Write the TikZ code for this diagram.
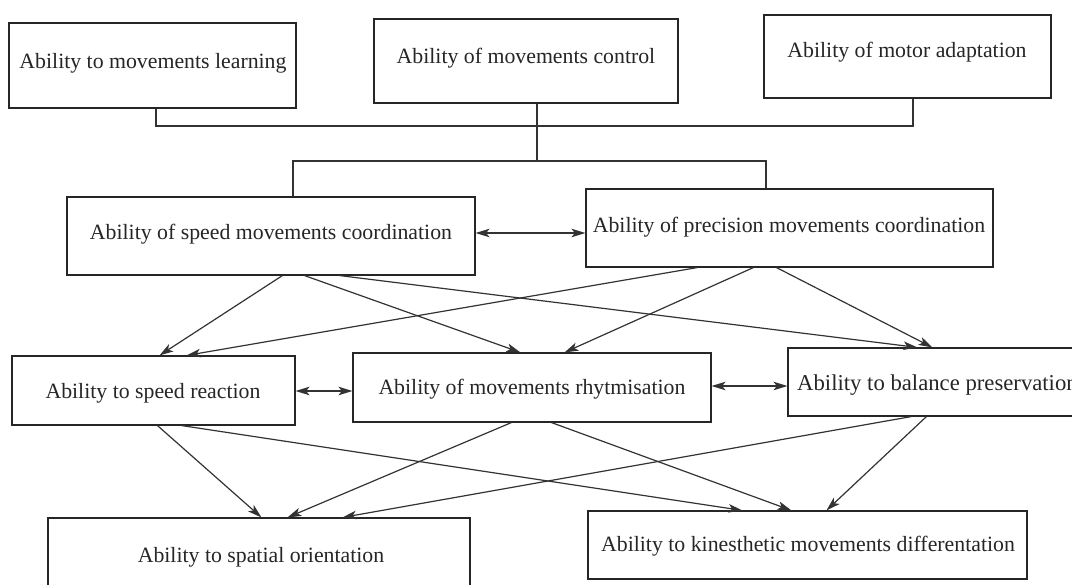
\documentclass[tikz,border=0pt]{standalone}
\usepackage{fontspec}
\setmainfont{Liberation Serif}
\usetikzlibrary{arrows.meta}
\begin{document}
\begin{tikzpicture}[x=1pt,y=-1pt,
  box/.style={draw=black!85,line width=1.1pt,rectangle,inner sep=0pt},
  lbl/.style={inner sep=0pt,text=black!85,font=\fontsize{21.8}{26}\selectfont},
  link/.style={draw=black!80,line width=1.2pt},
  arr/.style={link,-{Stealth[length=14pt,width=8.5pt,inset=3.5pt]}},
  darr/.style={link,{Stealth[length=14pt,width=8.5pt,inset=3.5pt]}-{Stealth[length=14pt,width=8.5pt,inset=3.5pt]}}]
\useasboundingbox[fill=white] (0,0) rectangle (1072,585);

% first level
\node[box,minimum width=287pt,minimum height=85pt] (A) at (152.5,65.5) {};
\node[lbl] (At) at (153,63) {Ability to movements learning};
\node[box,minimum width=304pt,minimum height=84pt] (B) at (526,61) {};
\node[lbl] (Bt) at (526,58) {Ability of movements control};
\node[box,minimum width=287pt,minimum height=83pt] (C) at (907.5,56.5) {};
\node[lbl] (Ct) at (907,52) {Ability of motor adaptation};

% second level
\node[box,minimum width=408pt,minimum height=78pt] (D) at (271,236) {};
\node[lbl] (Dt) at (271,234) {Ability of speed movements coordination};
\node[box,minimum width=407pt,minimum height=78pt] (E) at (789.5,228) {};
\node[lbl] (Et) at (789,227) {Ability of precision movements coordination};

% third level
\node[box,minimum width=283pt,minimum height=69pt] (F) at (153.5,390.5) {};
\node[lbl] (Ft) at (153,393) {Ability to speed reaction};
\node[box,minimum width=358pt,minimum height=69pt] (G) at (532,387.5) {};
\node[lbl] (Gt) at (532,389) {Ability of movements rhytmisation};
\node[box,minimum width=312pt,minimum height=68pt] (H) at (944,382) {};
\node[lbl,anchor=west,font=\fontsize{22.7}{27}\selectfont] (Ht) at (797,385) {Ability to balance preservation};

% fourth level
\node[box,minimum width=422pt,minimum height=92pt] (I) at (259,564) {};
\node[lbl] (It) at (261,557) {Ability to spatial orientation};
\node[box,minimum width=439pt,minimum height=68pt] (J) at (807.5,545) {};
\node[lbl] (Jt) at (808,546) {Ability to kinesthetic movements differentation};

% bracket connectors at the top
\coordinate (j1) at (537,126);
\coordinate (j2) at (537,161);
\draw[link] ([xshift=3.5pt]A.south) |- ([xshift=5.5pt]C.south |- j1) -- ([xshift=5.5pt]C.south);
\draw[link] ([xshift=11pt]B.south) -- (j2);
\draw[link] ([xshift=22pt]D.north) |- (j2) -| ([xshift=-23.5pt]E.north);

% two-way links within a level
\draw[darr] (D.east |- 0,233) -- (E.west |- 0,233);
\draw[darr] (F.east |- 0,391) -- (G.west |- 0,391);
\draw[darr] (G.east |- 0,386) -- (H.west |- 0,386);

% second level to third level
\draw[arr] ([xshift=216pt]D.south west) -- ([xshift=148pt]F.north west);
\draw[arr] ([xshift=238pt]D.south west) -- ([xshift=168pt]G.north west);
\draw[arr] ([xshift=273pt]D.south west) -- ([xshift=130pt]H.north west);
\draw[arr] ([xshift=112pt]E.south west) -- ([xshift=175pt]F.north west);
\draw[arr] ([xshift=168pt]E.south west) -- ([xshift=212pt]G.north west);
\draw[arr] ([xshift=191pt]E.south west) -- ([xshift=145pt]H.north west);

% third level to fourth level
\draw[arr] ([xshift=146pt]F.south west) -- ([xshift=214pt]I.north west);
\draw[arr] ([xshift=170pt]F.south west) -- ([xshift=155pt]J.north west);
\draw[arr] ([xshift=159pt]G.south west) -- ([xshift=240pt]I.north west);
\draw[arr] ([xshift=199pt]G.south west) -- ([xshift=204pt]J.north west);
\draw[arr] ([xshift=124pt]H.south west) -- ([xshift=295pt]I.north west);
\draw[arr] ([xshift=139pt]H.south west) -- ([xshift=239pt]J.north west);
\end{tikzpicture}
\end{document}
